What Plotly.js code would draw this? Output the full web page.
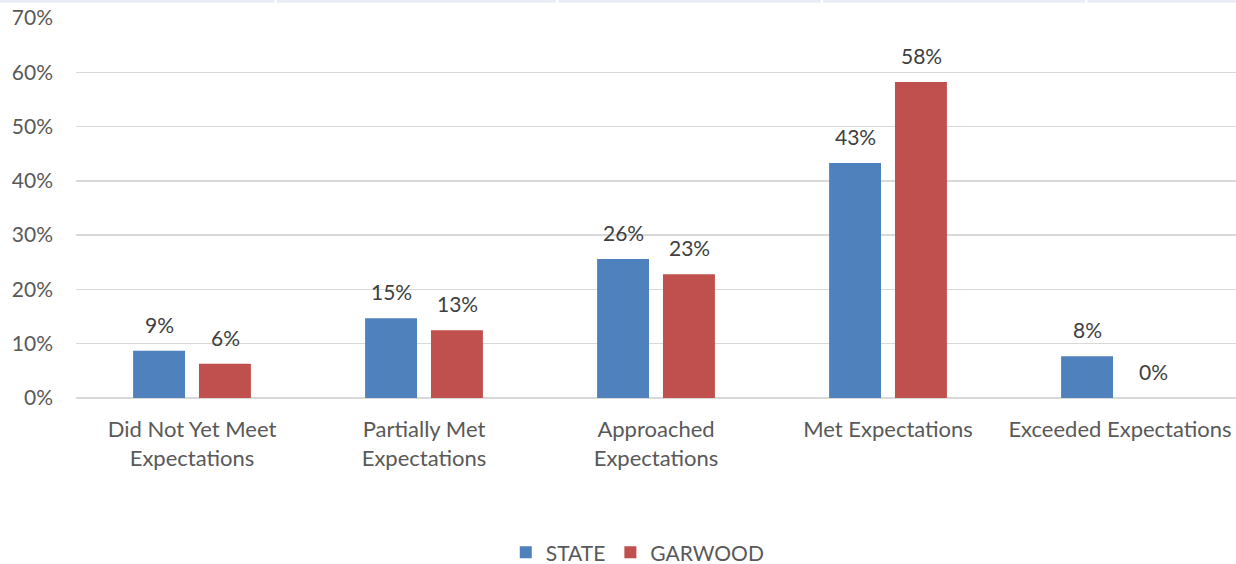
<!DOCTYPE html>
<html>
<head>
<meta charset="utf-8">
<script src="https://cdn.plot.ly/plotly-3.0.1.min.js"></script>
<style>html,body{margin:0;padding:0;background:#fff;}#chart{width:1236px;height:564px;}</style>
</head>
<body>
<div id="chart"></div>
<script>
const categories = ["Did Not Yet Meet<br>Expectations", "Partially Met<br>Expectations", "Approached<br>Expectations", "Met Expectations", "Exceeded Expectations"];
const stateValues = [8.7, 14.7, 25.6, 43.3, 7.7];
const garwoodValues = [6.3, 12.5, 22.8, 58.2, 0];
const stateLabels = ["9%", "15%", "26%", "43%", "8%"];
const garwoodLabels = ["6%", "13%", "23%", "58%", "0%"];
const yTickVals = [0, 10, 20, 30, 40, 50, 60, 70];
const yTickText = ["0%", "10%", "20%", "30%", "40%", "50%", "60%", "70%"];

const FONT = "Lato, 'Open Sans', sans-serif";
const traces = [
  {type: "bar", name: "STATE", x: categories, y: stateValues, marker: {color: "#4F81BD"}, hoverinfo: "skip"},
  {type: "bar", name: "GARWOOD", x: categories, y: garwoodValues, marker: {color: "#C0504D"}, hoverinfo: "skip"}
];

const annotations = [];
function addLabels(vals, labels, shift) {
  vals.forEach((v, i) => {
    annotations.push({x: categories[i], y: v, xref: "x", yref: "y", text: labels[i], showarrow: false,
      yanchor: "bottom", xanchor: "center", xshift: shift, yshift: 12,
      font: {family: FONT, size: 21, color: "#404040"}});
  });
}
addLabels(stateValues, stateLabels, -33);
addLabels(garwoodValues, garwoodLabels, 33);

const layout = {
  width: 1236, height: 564,
  margin: {l: 76, r: 0, t: 18, b: 166},
  paper_bgcolor: "#ffffff", plot_bgcolor: "#ffffff",
  font: {family: FONT, size: 20, color: "#595959"},
  barmode: "group", bargap: 0.432, bargroupgap: 0.212,
  xaxis: {type: "category", showgrid: false, zeroline: false, showline: false, ticks: "", ticklabelstandoff: 16,
    tickfont: {family: FONT, size: 22, color: "#595959"}, automargin: false},
  yaxis: {range: [0, 70], tickvals: yTickVals, ticktext: yTickText, showgrid: true, gridcolor: "#D9D9D9", gridwidth: 1.5,
    zeroline: true, zerolinecolor: "#D9D9D9", zerolinewidth: 1.5, showline: false, ticks: "", ticklabelstandoff: 22,
    tickfont: {family: FONT, size: 21, color: "#595959"}, automargin: false},
  showlegend: true,
  legend: {orientation: "h", x: 0.516, xanchor: "center", xref: "container", y: 0.02, yref: "container", yanchor: "middle",
    font: {family: FONT, size: 21, color: "#595959"}, itemwidth: 30, traceorder: "normal"},
  annotations: annotations,
  shapes: [
    {type: "rect", xref: "paper", yref: "paper", x0: -0.066, x1: 0.171, y0: 1.04, y1: 1.05, line: {width: 0}, fillcolor: "#E8EDF5"},
    {type: "rect", xref: "paper", yref: "paper", x0: 0.173, x1: 0.414, y0: 1.04, y1: 1.05, line: {width: 0}, fillcolor: "#E8EDF5"},
    {type: "rect", xref: "paper", yref: "paper", x0: 0.416, x1: 0.642, y0: 1.04, y1: 1.05, line: {width: 0}, fillcolor: "#E8EDF5"},
    {type: "rect", xref: "paper", yref: "paper", x0: 0.644, x1: 0.870, y0: 1.04, y1: 1.05, line: {width: 0}, fillcolor: "#E8EDF5"},
    {type: "rect", xref: "paper", yref: "paper", x0: 0.872, x1: 1.0, y0: 1.04, y1: 1.05, line: {width: 0}, fillcolor: "#E8EDF5"}
  ]
};

Plotly.newPlot("chart", traces, layout, {displayModeBar: false, staticPlot: true});
</script>
</body>
</html>
